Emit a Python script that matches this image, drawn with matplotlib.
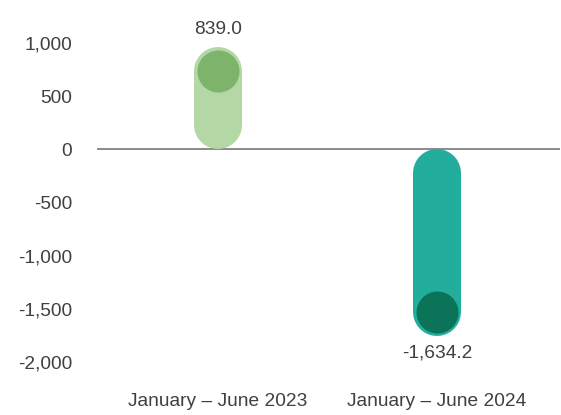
import matplotlib.pyplot as plt

categories = ['January – June 2023', 'January – June 2024']
values = [839.0, -1634.2]
bar_colors = ['#b4d7a6', '#23ad9c']
dot_colors = ['#7db36b', '#0b7358']
value_labels = ['839.0', '-1,634.2']
yticks = [1000, 500, 0, -500, -1000, -1500, -2000]

plt.rcParams['font.family'] = ['Liberation Sans', 'DejaVu Sans']
txt_color = '#404040'
fs = 13.8

W, H = 561, 415
fig = plt.figure(figsize=(W / 100, H / 100), dpi=100)
# axes placed in pixel terms: x 97..560, y 43..362
ax = fig.add_axes([97 / W, 1 - 362 / H, (560 - 97) / W, (362 - 43) / H])
ax.set_ylim(-2000, 1000)
ax.set_xlim(-0.553, 1.562)

units_per_px = 3000 / (362 - 43)
radius = 24 * units_per_px      # capsule half width in data units
shift = 100                     # dot sits a little inside the value

for i, v in enumerate(values):
    s = 1 if v >= 0 else -1
    dot_y = v - s * shift
    ax.plot([i, i], [s * radius, dot_y], color=bar_colors[i], lw=48 * 0.72,
            solid_capstyle='round', zorder=2)
    ax.scatter([i], [dot_y], s=(42 * 0.72) ** 2, color=dot_colors[i], zorder=3,
               linewidths=0)
    end = dot_y + s * radius
    ax.annotate(value_labels[i], (i, end), xytext=(0, 17 * s * 0.72),
                textcoords='offset points', ha='center', va='center',
                fontsize=fs, color=txt_color, annotation_clip=False)

ax.axhline(0, color='#777777', lw=1.2, zorder=1)

ax.set_yticks(yticks)
ax.set_yticklabels([f'{t:,}' for t in yticks])
ax.set_xticks(range(len(categories)))
ax.set_xticklabels(categories)
ax.tick_params(axis='y', length=0, pad=18, labelsize=fs, labelcolor=txt_color)
ax.tick_params(axis='x', length=0, pad=22, labelsize=fs, labelcolor=txt_color)
for sp in ax.spines.values():
    sp.set_visible(False)

fig.savefig('out.png', dpi=100)
